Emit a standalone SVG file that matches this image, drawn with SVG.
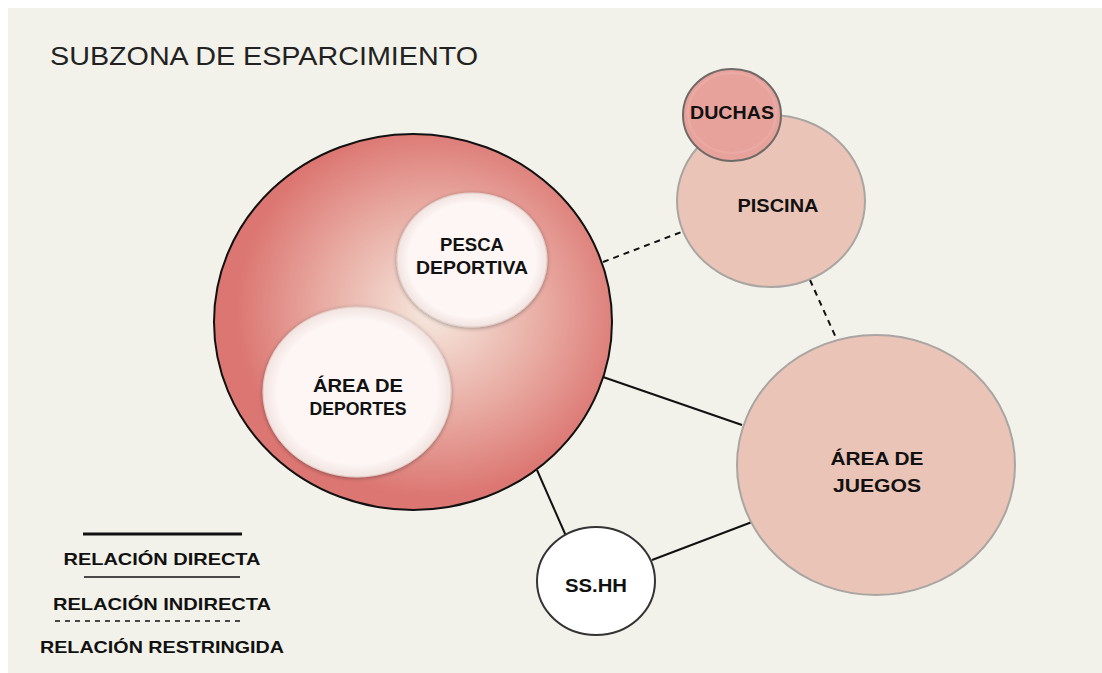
<svg xmlns="http://www.w3.org/2000/svg" width="1102" height="673" viewBox="0 0 1102 673">
<style>
.lbl{font-family:"Liberation Sans",Arial,sans-serif;font-weight:bold;font-size:19px;fill:#111;text-anchor:middle}
.leg{font-family:"Liberation Sans",Arial,sans-serif;font-weight:bold;font-size:16.5px;fill:#111;text-anchor:middle}
.solid{stroke:#111;stroke-width:2;fill:none}
.dash{stroke:#111;stroke-width:2;fill:none;stroke-dasharray:6 5}
</style>
<defs>
<radialGradient id="gBig" cx="0.55" cy="0.47" r="0.55">
<stop offset="0" stop-color="#F6E9DF"/>
<stop offset="0.5" stop-color="#E8ACA3"/>
<stop offset="0.9" stop-color="#DC7672"/>
</radialGradient>
<radialGradient id="gWhite" cx="0.5" cy="0.5" r="0.5">
<stop offset="0.85" stop-color="#FDF6F4"/>
<stop offset="1" stop-color="#F1E3E0"/>
</radialGradient>
<filter id="sh" x="-20%" y="-20%" width="140%" height="140%">
<feGaussianBlur in="SourceAlpha" stdDeviation="2"/>
<feOffset dx="0" dy="1"/>
<feComponentTransfer><feFuncA type="linear" slope="0.35"/></feComponentTransfer>
<feMerge><feMergeNode/><feMergeNode in="SourceGraphic"/></feMerge>
</filter>
</defs>
<rect x="0" y="0" width="1102" height="673" fill="#FFFFFF"/>
<rect x="8" y="8" width="1094" height="665" fill="#F3F2EA"/>
<text x="50" y="65" font-family="'Liberation Sans',Arial,sans-serif" font-size="26" fill="#222" textLength="428" lengthAdjust="spacingAndGlyphs">SUBZONA DE ESPARCIMIENTO</text>

<g id="connectors">
<line class="dash" x1="603" y1="262" x2="684" y2="231"/>
<line class="dash" x1="810" y1="280" x2="837" y2="340"/>
<line class="solid" x1="603" y1="377" x2="742" y2="425"/>
<line class="solid" x1="537" y1="470" x2="566" y2="536"/>
<line class="solid" x1="652" y1="560" x2="752" y2="522"/>
<line class="solid" x1="428" y1="314" x2="417" y2="328"/>
</g>

<g id="subzona">
<ellipse cx="413" cy="322" rx="199" ry="188" fill="url(#gBig)" stroke="#111" stroke-width="2"/>
</g>
<g id="pesca">
<ellipse cx="472" cy="260" rx="75" ry="67" fill="url(#gWhite)" stroke="#E0D0CC" stroke-width="1" filter="url(#sh)"/>
<text class="lbl" x="472" y="251" textLength="64" lengthAdjust="spacingAndGlyphs">PESCA</text>
<text class="lbl" x="472" y="274" textLength="112" lengthAdjust="spacingAndGlyphs">DEPORTIVA</text>
</g>
<g id="deportes">
<ellipse cx="357" cy="392" rx="94" ry="85" fill="url(#gWhite)" stroke="#E0D0CC" stroke-width="1" filter="url(#sh)"/>
<text class="lbl" x="358" y="392" textLength="90" lengthAdjust="spacingAndGlyphs">ÁREA DE</text>
<text class="lbl" x="358" y="415" textLength="97" lengthAdjust="spacingAndGlyphs">DEPORTES</text>
</g>
<g id="piscina">
<ellipse cx="771" cy="201" rx="94" ry="86" fill="#EBC4B8" stroke="#A9A5A2" stroke-width="2"/>
<text class="lbl" x="778" y="212" textLength="81" lengthAdjust="spacingAndGlyphs">PISCINA</text>
</g>
<g id="duchas">
<ellipse cx="732" cy="115" rx="49" ry="46" fill="#E8A29C" stroke="#6E6A68" stroke-width="2"/>
<ellipse cx="732" cy="113" rx="44" ry="40" fill="none" stroke="#EDB0AA" stroke-width="2" opacity="0.6"/>
<text class="lbl" x="732" y="119" textLength="84" lengthAdjust="spacingAndGlyphs">DUCHAS</text>
</g>
<g id="juegos">
<ellipse cx="876" cy="465" rx="139" ry="130" fill="#EBC4B8" stroke="#A9A5A2" stroke-width="2"/>
<text class="lbl" x="877" y="465" textLength="93" lengthAdjust="spacingAndGlyphs">ÁREA DE</text>
<text class="lbl" x="877" y="492" textLength="88" lengthAdjust="spacingAndGlyphs">JUEGOS</text>
</g>
<g id="sshh">
<ellipse cx="596" cy="581" rx="59" ry="54" fill="#FFFFFF" stroke="#333" stroke-width="2"/>
<text class="lbl" x="596" y="592" textLength="62" lengthAdjust="spacingAndGlyphs">SS.HH</text>
</g>

<g id="legend">
<line x1="83" y1="534" x2="242" y2="534" stroke="#111" stroke-width="3"/>
<text class="leg" x="162" y="565" textLength="197" lengthAdjust="spacingAndGlyphs">RELACIÓN DIRECTA</text>
<line x1="84" y1="577" x2="240" y2="577" stroke="#111" stroke-width="1.5"/>
<text class="leg" x="162" y="610" textLength="218" lengthAdjust="spacingAndGlyphs">RELACIÓN INDIRECTA</text>
<line x1="55" y1="621" x2="242" y2="621" stroke="#111" stroke-width="1.5" stroke-dasharray="5 5"/>
<text class="leg" x="162" y="653" textLength="244" lengthAdjust="spacingAndGlyphs">RELACIÓN RESTRINGIDA</text>
</g>
</svg>
